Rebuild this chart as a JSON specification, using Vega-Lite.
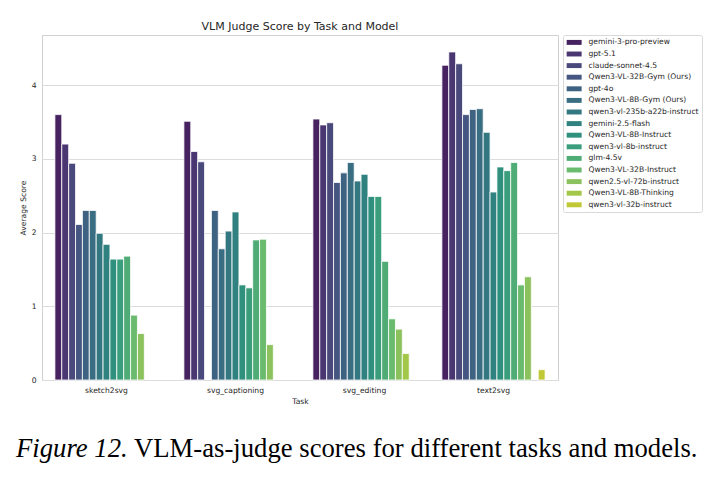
{
  "$schema": "https://vega.github.io/schema/vega-lite/v6.json",
  "background": "white",
  "padding": {"left": 16, "top": 20, "right": 5, "bottom": 5},
  "config": {
    "font": "DejaVu Sans",
    "view": {"stroke": null},
    "axis": {
      "labelFontSize": 7.6, "titleFontSize": 7.6, "labelColor": "#262626", "titleColor": "#262626",
      "titleFontWeight": "normal", "ticks": false, "tickSize": 0, "domain": false, "labelPadding": 6
    }
  },
  "resolve": {"legend": {"color": "independent"}},
  "spacing": 30,
  "vconcat": [
    {
      "width": 516,
      "height": 345,
      "view": {"stroke": "#d0d0d0", "strokeWidth": 1},
      "title": {"text": "VLM Judge Score by Task and Model", "fontSize": 11, "fontWeight": "normal", "color": "#262626", "offset": 3},
      "data": {"values": [
        {"task": "sketch2svg", "model": "gemini-3-pro-preview", "score": 3.60},
        {"task": "sketch2svg", "model": "gpt-5.1", "score": 3.20},
        {"task": "sketch2svg", "model": "claude-sonnet-4.5", "score": 2.94},
        {"task": "sketch2svg", "model": "Qwen3-VL-32B-Gym (Ours)", "score": 2.11},
        {"task": "sketch2svg", "model": "gpt-4o", "score": 2.30},
        {"task": "sketch2svg", "model": "Qwen3-VL-8B-Gym (Ours)", "score": 2.30},
        {"task": "sketch2svg", "model": "qwen3-vl-235b-a22b-instruct", "score": 1.99},
        {"task": "sketch2svg", "model": "gemini-2.5-flash", "score": 1.84},
        {"task": "sketch2svg", "model": "Qwen3-VL-8B-Instruct", "score": 1.64},
        {"task": "sketch2svg", "model": "qwen3-vl-8b-instruct", "score": 1.64},
        {"task": "sketch2svg", "model": "glm-4.5v", "score": 1.68},
        {"task": "sketch2svg", "model": "Qwen3-VL-32B-Instruct", "score": 0.88},
        {"task": "sketch2svg", "model": "qwen2.5-vl-72b-instruct", "score": 0.63},
        {"task": "svg_captioning", "model": "gemini-3-pro-preview", "score": 3.51},
        {"task": "svg_captioning", "model": "gpt-5.1", "score": 3.10},
        {"task": "svg_captioning", "model": "claude-sonnet-4.5", "score": 2.96},
        {"task": "svg_captioning", "model": "gpt-4o", "score": 2.30},
        {"task": "svg_captioning", "model": "Qwen3-VL-8B-Gym (Ours)", "score": 1.78},
        {"task": "svg_captioning", "model": "qwen3-vl-235b-a22b-instruct", "score": 2.02},
        {"task": "svg_captioning", "model": "gemini-2.5-flash", "score": 2.28},
        {"task": "svg_captioning", "model": "Qwen3-VL-8B-Instruct", "score": 1.29},
        {"task": "svg_captioning", "model": "qwen3-vl-8b-instruct", "score": 1.25},
        {"task": "svg_captioning", "model": "glm-4.5v", "score": 1.90},
        {"task": "svg_captioning", "model": "Qwen3-VL-32B-Instruct", "score": 1.91},
        {"task": "svg_captioning", "model": "qwen2.5-vl-72b-instruct", "score": 0.48},
        {"task": "svg_editing", "model": "gemini-3-pro-preview", "score": 3.54},
        {"task": "svg_editing", "model": "gpt-5.1", "score": 3.46},
        {"task": "svg_editing", "model": "claude-sonnet-4.5", "score": 3.49},
        {"task": "svg_editing", "model": "Qwen3-VL-32B-Gym (Ours)", "score": 2.68},
        {"task": "svg_editing", "model": "gpt-4o", "score": 2.81},
        {"task": "svg_editing", "model": "Qwen3-VL-8B-Gym (Ours)", "score": 2.95},
        {"task": "svg_editing", "model": "qwen3-vl-235b-a22b-instruct", "score": 2.70},
        {"task": "svg_editing", "model": "gemini-2.5-flash", "score": 2.79},
        {"task": "svg_editing", "model": "Qwen3-VL-8B-Instruct", "score": 2.49},
        {"task": "svg_editing", "model": "qwen3-vl-8b-instruct", "score": 2.49},
        {"task": "svg_editing", "model": "glm-4.5v", "score": 1.61},
        {"task": "svg_editing", "model": "Qwen3-VL-32B-Instruct", "score": 0.83},
        {"task": "svg_editing", "model": "qwen2.5-vl-72b-instruct", "score": 0.69},
        {"task": "svg_editing", "model": "Qwen3-VL-8B-Thinking", "score": 0.36},
        {"task": "text2svg", "model": "gemini-3-pro-preview", "score": 4.27},
        {"task": "text2svg", "model": "gpt-5.1", "score": 4.45},
        {"task": "text2svg", "model": "claude-sonnet-4.5", "score": 4.29},
        {"task": "text2svg", "model": "Qwen3-VL-32B-Gym (Ours)", "score": 3.60},
        {"task": "text2svg", "model": "gpt-4o", "score": 3.67},
        {"task": "text2svg", "model": "Qwen3-VL-8B-Gym (Ours)", "score": 3.68},
        {"task": "text2svg", "model": "qwen3-vl-235b-a22b-instruct", "score": 3.36},
        {"task": "text2svg", "model": "gemini-2.5-flash", "score": 2.55},
        {"task": "text2svg", "model": "Qwen3-VL-8B-Instruct", "score": 2.89},
        {"task": "text2svg", "model": "qwen3-vl-8b-instruct", "score": 2.84},
        {"task": "text2svg", "model": "glm-4.5v", "score": 2.95},
        {"task": "text2svg", "model": "Qwen3-VL-32B-Instruct", "score": 1.29},
        {"task": "text2svg", "model": "qwen2.5-vl-72b-instruct", "score": 1.40},
        {"task": "text2svg", "model": "qwen3-vl-32b-instruct", "score": 0.14}
      ]},
      "mark": {"type": "bar", "stroke": "white", "strokeWidth": 0.8},
      "encoding": {
        "x": {
          "field": "task", "type": "nominal", "title": "Task",
          "sort": ["sketch2svg", "svg_captioning", "svg_editing", "text2svg"],
          "scale": {"paddingInner": 0.2, "paddingOuter": 0.1},
          "axis": {"labelAngle": 0, "grid": false, "titlePadding": 4}
        },
        "xOffset": {
          "field": "model", "type": "nominal",
          "scale": {"domain": ["gemini-3-pro-preview", "gpt-5.1", "claude-sonnet-4.5", "Qwen3-VL-32B-Gym (Ours)", "gpt-4o", "Qwen3-VL-8B-Gym (Ours)", "qwen3-vl-235b-a22b-instruct", "gemini-2.5-flash", "Qwen3-VL-8B-Instruct", "qwen3-vl-8b-instruct", "glm-4.5v", "Qwen3-VL-32B-Instruct", "qwen2.5-vl-72b-instruct", "Qwen3-VL-8B-Thinking", "qwen3-vl-32b-instruct"], "paddingInner": 0, "paddingOuter": 0}
        },
        "y": {
          "field": "score", "type": "quantitative", "title": "Average Score",
          "scale": {"domain": [0, 4.68], "nice": false},
          "axis": {"values": [0, 1, 2, 3, 4], "grid": true, "gridColor": "#dcdcdc", "gridWidth": 1, "titlePadding": 4}
        },
        "color": {
          "field": "model", "type": "nominal",
          "scale": {
            "domain": ["gemini-3-pro-preview", "gpt-5.1", "claude-sonnet-4.5", "Qwen3-VL-32B-Gym (Ours)", "gpt-4o", "Qwen3-VL-8B-Gym (Ours)", "qwen3-vl-235b-a22b-instruct", "gemini-2.5-flash", "Qwen3-VL-8B-Instruct", "qwen3-vl-8b-instruct", "glm-4.5v", "Qwen3-VL-32B-Instruct", "qwen2.5-vl-72b-instruct", "Qwen3-VL-8B-Thinking", "qwen3-vl-32b-instruct"],
            "range": ["#462260", "#4a3671", "#4a497c", "#455681", "#3e6282", "#396d82", "#337781", "#2f827f", "#30907e", "#3a9d7b", "#4fac76", "#6bbb6e", "#8cc25d", "#a2c749", "#c0c935"]
          },
          "legend": {
            "orient": "right", "offset": 4.5, "title": null,
            "symbolType": "M-2,-0.66H2V0.66H-2Z", "symbolSize": 56, "symbolStrokeWidth": 0, "symbolOpacity": 1,
            "symbolOffset": 3.75,
            "labelFontSize": 7.6, "labelColor": "#262626", "labelOffset": 10.3, "rowPadding": 3.6,
            "padding": 3.4, "strokeColor": "#d9d9d9", "cornerRadius": 2, "fillColor": "white"
          }
        }
      }
    },
    {
      "spacing": 6,
      "hconcat": [
        {
          "width": 1, "height": 1,
          "data": {"values": []},
          "mark": "point",
          "title": {"text": "Figure 12.", "font": "Liberation Serif", "fontSize": 26.7, "fontStyle": "italic", "fontWeight": "normal", "color": "black", "anchor": "start", "dx": -26}
        },
        {
          "width": 1, "height": 1,
          "data": {"values": []},
          "mark": "point",
          "title": {"text": "VLM-as-judge scores for different tasks and models.", "font": "Liberation Serif", "fontSize": 26.7, "fontWeight": "normal", "color": "black", "anchor": "start", "dx": -24}
        }
      ]
    }
  ]
}
